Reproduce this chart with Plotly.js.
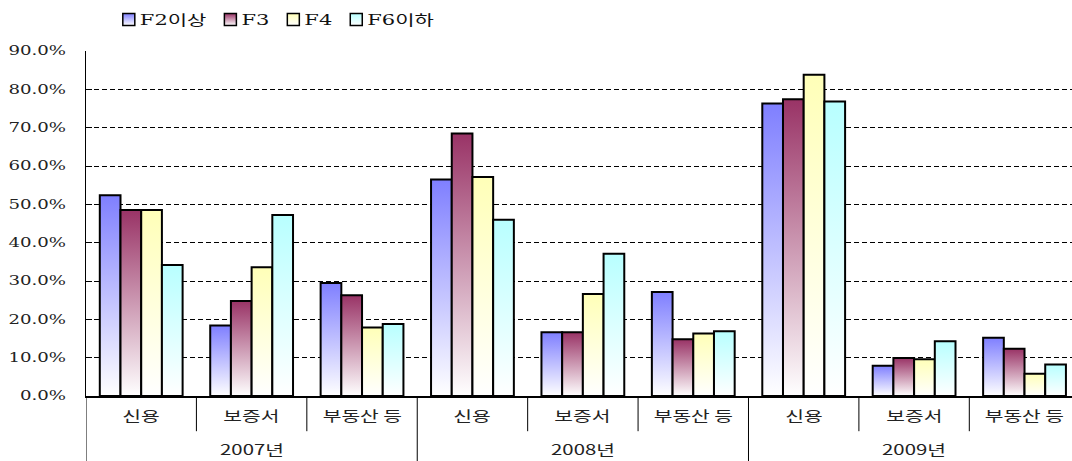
<!DOCTYPE html>
<html>
<head>
<meta charset="utf-8">
<script src="https://cdn.plot.ly/plotly-3.0.1.min.js"></script>
<style>html,body{margin:0;padding:0;background:#fff;}#chart{width:1072px;height:461px;}</style>
</head>
<body>
<div id="chart"></div>
<script>
// ---- data ----
const years = ['2007년', '2008년', '2009년'];
const types = ['신용', '보증서', '부동산 등'];
const seriesNames = ['F2이상', 'F3', 'F4', 'F6이하'];
const f2 = [52.4, 18.4, 29.5, 56.5, 16.6, 27.1, 76.3, 7.9, 15.2];
const f3 = [48.5, 24.8, 26.3, 68.5, 16.6, 14.8, 77.4, 9.9, 12.3];
const f4 = [48.5, 33.6, 17.9, 57.1, 26.6, 16.3, 83.8, 9.6, 5.8];
const f6 = [34.2, 47.2, 18.8, 46.0, 37.1, 16.9, 76.8, 14.3, 8.2];
const seriesValues = [f2, f3, f4, f6];
const colors = ['#7f7fff', '#993366', '#ffffb8', '#b8ffff'];

// ---- build ----
const xIdx = [];
const innerLabels = [];
years.forEach((y, yi) => types.forEach((t, ti) => { xIdx.push(yi * types.length + ti); innerLabels.push(t); }));

const traces = seriesValues.map((vals, i) => ({
  type: 'bar', x: xIdx, y: vals, name: seriesNames[i],
  marker: {color: colors[i], line: {color: '#000', width: 2}},
  hoverinfo: 'skip'
}));

const labelFont = {family: 'Noto Sans CJK KR, sans-serif', size: 14, color: '#222'};
const annotations = [];
const shapes = [];
xIdx.forEach((x, i) => {
  annotations.push({x: x, xref: 'x', y: 0, yref: 'paper', yanchor: 'middle', yshift: -19,
    text: innerLabels[i], showarrow: false, font: labelFont});
});
years.forEach((y, yi) => {
  const mid = yi * types.length + (types.length - 1) / 2;
  annotations.push({x: mid, xref: 'x', y: 0, yref: 'paper', yanchor: 'middle', yshift: -53,
    text: y, showarrow: false, font: labelFont});
});
const nCat = xIdx.length;
for (let k = 0; k <= nCat; k++) {
  const isYear = (k % types.length === 0);
  shapes.push({type: 'line', xref: 'x', yref: 'paper', x0: k - 0.5, x1: k - 0.5,
    y0: 0, y1: isYear ? -0.19 : -0.102, line: {color: '#000', width: 1}});
}

const layout = {
  width: 1072, height: 461,
  margin: {l: 86, r: 0, t: 51, b: 65},
  paper_bgcolor: '#fff', plot_bgcolor: '#fff',
  barmode: 'group', bargap: 0.25, bargroupgap: 0,
  showlegend: true,
  legend: {orientation: 'h', x: 0.014, xanchor: 'left', y: 1.09, yanchor: 'middle',
    font: {family: 'DejaVu Serif, Noto Sans CJK KR, serif', size: 14, color: '#111'},
    itemwidth: 30, tracegroupgap: 0, bgcolor: 'rgba(0,0,0,0)'},
  xaxis: {range: [-0.5, 8.43], showticklabels: false, showgrid: false, zeroline: false,
    showline: true, linecolor: '#000', linewidth: 1.5, ticks: '', fixedrange: true},
  yaxis: {range: [0, 90], dtick: 10, tickformat: '.1f', ticksuffix: '%',
    showgrid: true, gridcolor: '#000', gridwidth: 1, griddash: '5px,3px',
    showline: true, linecolor: '#000', linewidth: 1.5, ticks: 'inside', ticklen: 6, tickcolor: '#000',
    zeroline: false, ticklabelstandoff: 16,
    tickfont: {family: 'DejaVu Serif, serif', size: 12.5, color: '#222'}},
  annotations: annotations,
  shapes: shapes
};

const STRETCH = 1.45;
function stretch(t, k) {
  const len = t.getComputedTextLength();
  if (len > 0) {
    t.setAttribute('textLength', (len * k).toFixed(1));
    t.setAttribute('lengthAdjust', 'spacingAndGlyphs');
  }
  return len * k;
}

function applyStyling(gd) {
  const svg = gd.querySelector('.main-svg');
  const defs = svg.querySelector('defs');
  const ns = 'http://www.w3.org/2000/svg';
  colors.forEach((c, i) => {
    const g = document.createElementNS(ns, 'linearGradient');
    g.setAttribute('id', 'barGrad' + i);
    g.setAttribute('x1', '0'); g.setAttribute('y1', '0');
    g.setAttribute('x2', '0'); g.setAttribute('y2', '1');
    const r = parseInt(c.slice(1, 3), 16), gg = parseInt(c.slice(3, 5), 16), b = parseInt(c.slice(5, 7), 16);
    const mix = v => Math.round(v + (255 - v) * 0.45);
    [['0', c], ['0.45', 'rgb(' + mix(r) + ',' + mix(gg) + ',' + mix(b) + ')'], ['1', '#ffffff']].forEach(s => {
      const st = document.createElementNS(ns, 'stop');
      st.setAttribute('offset', s[0]);
      st.setAttribute('stop-color', s[1]);
      g.appendChild(st);
    });
    defs.appendChild(g);
  });
  gd.querySelectorAll('.barlayer .trace').forEach((tr, i) => {
    tr.querySelectorAll('.point path').forEach(p => { p.style.fill = 'url(#barGrad' + i + ')'; });
  });
  // stretch texts horizontally to mimic the wide lettering
  gd.querySelectorAll('.ytick text').forEach(t => stretch(t, 1.45));
  gd.querySelectorAll('.annotation-text').forEach(t => stretch(t, STRETCH));
  // legend: gradient swatches, stretched text, compact spacing
  gd.querySelectorAll('.legend [clip-path]').forEach(el => el.removeAttribute('clip-path'));
  gd.querySelectorAll('.legend').forEach(el => el.style.overflow = 'visible');
  const items = gd.querySelectorAll('.legend .traces');
  let xpos = null;
  items.forEach((tr, i) => {
    tr.querySelectorAll('.legendpoints path').forEach(p => { p.style.fill = 'url(#barGrad' + i + ')'; p.style.strokeWidth = '1.5px'; });
    const pts = tr.querySelector('.legendpoints');
    if (pts) pts.setAttribute('transform', 'translate(9,0)');
    const t = tr.querySelector('text.legendtext');
    const w = t ? stretch(t, 1.5) : 0;
    const m = /translate\(([-\d.]+)[ ,]*([-\d.]+)?\)/.exec(tr.getAttribute('transform') || '');
    const y = m && m[2] ? m[2] : 0;
    if (xpos === null) xpos = m ? parseFloat(m[1]) : 0;
    tr.setAttribute('transform', 'translate(' + xpos + ',' + y + ')');
    xpos += w + 35;
  });
}

Plotly.newPlot('chart', traces, layout, {staticPlot: true}).then(applyStyling);
</script>
</body>
</html>
